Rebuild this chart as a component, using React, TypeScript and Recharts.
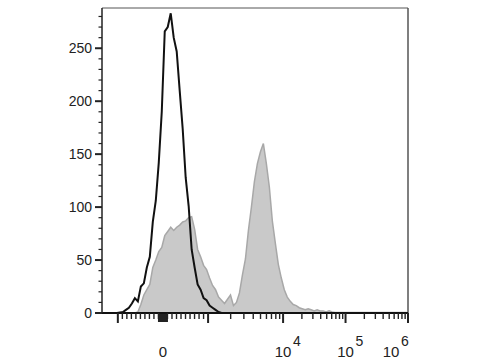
import React from 'react'
import {
  ComposedChart,
  Area,
  Line,
  XAxis,
  YAxis,
  ReferenceLine,
} from 'recharts'

// histogram bins (channel units, 0-1024 display scale)
const channels = [
  0, 10, 20, 30, 40, 50, 60, 70, 80, 90, 100, 110, 120, 130, 140, 150, 160, 170, 180, 190,
  200, 210, 220, 230, 240, 250, 260, 270, 280, 290, 300, 310, 320, 330, 340, 350, 360, 370, 380, 390,
  400, 410, 420, 430, 440, 450, 460, 470, 480, 490, 500, 510, 520, 530, 540, 550, 560, 570, 580, 590,
  600, 610, 620, 630, 640, 650, 660, 670, 680, 690, 700, 710, 720, 730, 740, 750, 760, 770, 780, 790,
  800, 810, 820, 830, 840, 850, 860, 870, 880, 890, 900, 910, 920, 930, 940, 950, 960, 970, 980, 990,
  1000, 1010, 1020,
]

// unstained / control (black line)
const controlCounts = [
  0, 0, 0, 0, 0, 0, 0.5, 1, 3, 5, 9, 14, 11, 25, 28, 43, 53, 86, 106, 142,
  190, 266, 270, 283, 260, 247, 210, 174, 128, 101, 60, 43, 27, 22, 14, 12, 7, 5, 3, 1,
  0, 0, 0, 0, 0, 0, 0, 0, 0, 0, 0, 0, 0, 0, 0, 0, 0, 0, 0, 0,
  0, 0, 0, 0, 0, 0, 0, 0, 0, 0, 0, 0, 0, 0, 0, 0, 0, 0, 0, 0,
  0, 0, 0, 0, 0, 0, 0, 0, 0, 0, 0, 0, 0, 0, 0, 0, 0, 0, 0, 0,
  0, 0, 0,
]

// stained sample (grey filled)
const stainedCounts = [
  0, 0, 0, 0, 0, 0, 0, 0, 0, 0, 0, 0, 1, 8, 17, 22, 27, 43, 50, 58,
  62, 73, 77, 81, 78, 81, 83, 86, 87, 90, 91, 79, 60, 53, 45, 41, 33, 26, 22, 15,
  12, 9, 13, 17, 7, 10, 19, 36, 51, 78, 100, 124, 141, 152, 160, 141, 119, 87, 66, 46,
  33, 22, 15, 11, 8, 7, 5, 4, 3, 4, 3, 2, 3, 2, 2, 1, 2, 1, 0.5, 0.5,
  0.5, 0.5, 0.5, 0.5, 0.5, 0.5, 0.5, 0.5, 0.5, 0.5, 0.5, 0.5, 0.5, 0.5, 0.5, 0.5, 0.5, 0.5, 0.5, 0.5,
  0.5, 0.5, 0.5,
]

const yTicks = [
  0, 10, 20, 30, 40, 50, 60, 70, 80, 90, 100, 110, 120, 130, 140, 150, 160, 170, 180, 190,
  200, 210, 220, 230, 240, 250, 260, 270, 280,
]
const yLabeled = [0, 50, 100, 150, 200, 250]

// fluorescence values where x ticks sit
const xLinearTicks = [
  -1000, -900, -800, -700, -600, -500, -400, -300, -200, -100, 0,
  100, 200, 300, 400, 500, 600, 700, 800, 900, 1000,
]
const xLogTicks = [
  2000, 3000, 4000, 5000, 6000, 7000, 8000, 9000, 10000,
  20000, 30000, 40000, 50000, 60000, 70000, 80000, 90000, 100000,
  200000, 300000, 400000, 500000, 600000, 700000, 800000, 900000, 1000000,
]
const xMajor = [-1000, 0, 1000, 10000, 100000, 1000000]
const xLabels: { value: number; base: string; exp: string }[] = [
  { value: 0, base: '0', exp: '' },
  { value: 10000, base: '10', exp: '4' },
  { value: 100000, base: '10', exp: '5' },
  { value: 1000000, base: '10', exp: '6' },
]

// biexponential-like display transform: linear around 0, log above 10^3
function toChannel(v: number) {
  if (Math.abs(v) <= 1000) return 204 + (v / 1000) * 151
  if (v <= 10000) return 355 + Math.log10(v / 1000) * 251
  return 606 + (Math.log10(v) - 4) * 209
}

const xTickInfo = [...xLinearTicks, ...xLogTicks].map((v) => ({
  ch: toChannel(v),
  value: v,
}))

const data = channels.map((ch, i) => ({
  ch,
  control: controlCounts[i],
  stained: stainedCounts[i],
}))

const FONT = 'Arial, "Liberation Sans", sans-serif'

function YTick(props: any) {
  const { x, y, payload } = props
  const v = payload.value
  const major = yLabeled.includes(v)
  return (
    <g>
      <line x1={x - (major ? 7 : 3.5)} x2={x} y1={y} y2={y} stroke="#222" strokeWidth={major ? 2 : 1.2} />
      {major && (
        <text x={x - 10} y={y} dy="0.36em" textAnchor="end" fontSize={14} fill="#222" fontFamily={FONT}>
          {v}
        </text>
      )}
    </g>
  )
}

function XTick(props: any) {
  const { x, y, payload } = props
  const info = xTickInfo.find((t) => Math.abs(t.ch - payload.value) < 0.01)
  if (!info) return null
  const major = xMajor.includes(info.value)
  const label = xLabels.find((l) => l.value === info.value)
  const isLast = info.value === 1000000
  const lx = isLast ? x - 17 : x
  return (
    <g>
      {info.value === 0 ? (
        <rect x={x - 5} y={y + 1} width={10} height={8} fill="#222" />
      ) : (
        <line x1={x} x2={x} y1={y} y2={y + (major ? 10 : 6)} stroke="#222" strokeWidth={major ? 2 : 1.4} />
      )}
      {label && (
        <g fontFamily={FONT} fill="#222">
          <text x={lx} y={357} textAnchor="middle" fontSize={15}>
            {label.base}
          </text>
          {label.exp && (
            <text x={lx + 10} y={346} textAnchor="start" fontSize={14}>
              {label.exp}
            </text>
          )}
        </g>
      )}
    </g>
  )
}

export default function App() {
  return (
    <div style={{ position: 'absolute', left: 0, top: 0, width: 480, height: 360, background: '#fff' }}>
      <ComposedChart
        width={480}
        height={360}
        data={data}
        margin={{ top: 8, right: 72, bottom: 0, left: 0 }}
      >
        <XAxis
          dataKey="ch"
          type="number"
          domain={[0, 1024]}
          ticks={xTickInfo.map((t) => t.ch)}
          interval={0}
          height={47}
          tickSize={0}
          tickMargin={0}
          tickLine={false}
          tick={<XTick />}
          axisLine={{ stroke: '#111', strokeWidth: 2 }}
        />
        <YAxis
          type="number"
          domain={[0, 288]}
          ticks={yTicks}
          interval={0}
          width={102}
          tickSize={0}
          tickMargin={0}
          tickLine={false}
          tick={<YTick />}
          axisLine={{ stroke: '#222', strokeWidth: 1.5 }}
        />
        <ReferenceLine y={288} stroke="#555" strokeWidth={1} />
        <ReferenceLine x={1024} stroke="#555" strokeWidth={1.5} />
        <Area
          type="linear"
          dataKey="stained"
          stroke="#a8a8a8"
          strokeWidth={1.5}
          fill="#c9c9c9"
          fillOpacity={1}
          isAnimationActive={false}
          dot={false}
          activeDot={false}
        />
        <Line
          type="linear"
          dataKey="control"
          stroke="#111"
          strokeWidth={2}
          dot={false}
          activeDot={false}
          isAnimationActive={false}
        />
      </ComposedChart>
    </div>
  )
}
